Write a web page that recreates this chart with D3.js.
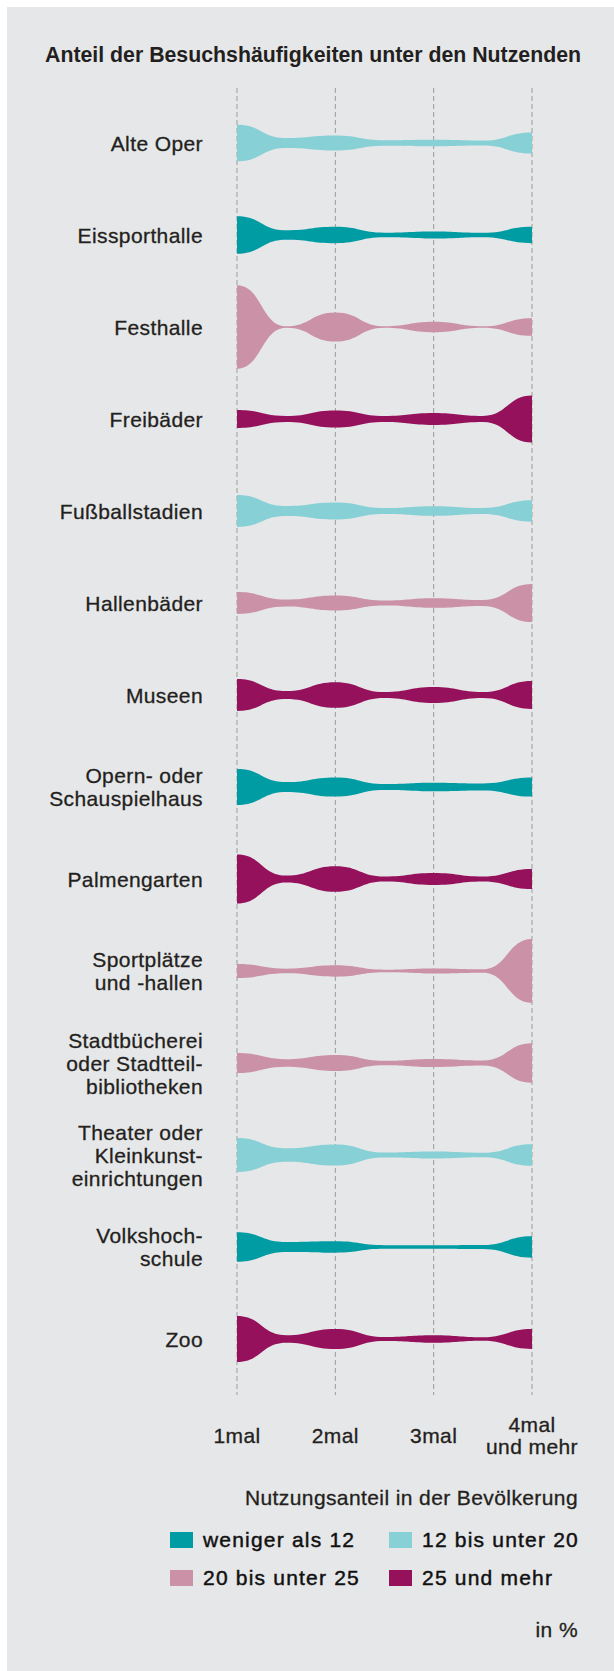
<!DOCTYPE html>
<html>
<head>
<meta charset="utf-8">
<script src="https://cdn.jsdelivr.net/npm/d3@7"></script>
<style>
body { margin: 0; background: #fff; }
svg { display: block; font-family: "Liberation Sans", Arial, sans-serif; }
</style>
</head>
<body>
<script>
// venues (label lines), usage class per venue
var venues = [
    ["Alte Oper"], ["Eissporthalle"], ["Festhalle"], ["Freibäder"], ["Fußballstadien"],
    ["Hallenbäder"], ["Museen"], ["Opern- oder", "Schauspielhaus"], ["Palmengarten"],
    ["Sportplätze", "und -hallen"], ["Stadtbücherei", "oder Stadtteil-", "bibliotheken"],
    ["Theater oder", "Kleinkunst-", "einrichtungen"], ["Volkshoch-", "schule"], ["Zoo"]
];
var usage = [1, 0, 2, 3, 1, 2, 3, 0, 3, 2, 2, 1, 0, 3];

// thickness at 1mal, 2mal, 3mal, 4mal+ (half width)
var atTicks = [
    [18.3, 7.5, 3.2, 10.5],
    [18.7, 8.2, 3.5, 8.2],
    [41.7, 14.5, 5.2, 8.8],
    [9, 8.5, 6, 23.5],
    [16, 8.5, 4.8, 10.7],
    [11, 7.5, 4.8, 19],
    [16, 12.8, 8, 13.9],
    [18, 9.6, 4.3, 9.6],
    [24.5, 12.8, 6, 10],
    [7, 5.7, 2.5, 32],
    [10, 8, 4, 19.7],
    [17, 10.5, 3.5, 10.7],
    [14.7, 5.7, 1.7, 10.7],
    [23, 10, 3.7, 10]
];
// thickness at the narrow points between the ticks
var waists = [
    [5, 2.7, 2.5],
    [4.7, 2.3, 2.2],
    [0.7, 0.7, 0.7],
    [3, 3, 3],
    [5, 3, 3],
    [3.5, 2.5, 3],
    [4, 3, 3],
    [5, 3, 3.5],
    [3.5, 2.5, 2.5],
    [2.3, 1.3, 1.7],
    [3.8, 2.2, 2.5],
    [6.7, 2.5, 2.3],
    [5, 1.8, 2],
    [3.8, 2, 1.7]
];

var frequency = [["1mal"], ["2mal"], ["3mal"], ["4mal", "und mehr"]];
var classes = ["weniger als 12", "12 bis unter 20", "20 bis unter 25", "25 und mehr"];
var colors = ["#009ca3", "#87d1d6", "#cb91a6", "#95115b"];

var W = 614, H = 1671;
var textColor = "#231f20";

var svg = d3.select("body").append("svg")
    .attr("width", W)
    .attr("height", H);

svg.append("rect")
    .attr("x", 7).attr("y", 7)
    .attr("width", W - 7).attr("height", H - 7)
    .attr("fill", "#e6e7e8");

svg.append("text")
    .attr("x", 45).attr("y", 62)
    .attr("font-size", 21.3)
    .attr("font-weight", "bold")
    .attr("fill", textColor)
    .text("Anteil der Besuchshäufigkeiten unter den Nutzenden");

var x = d3.scaleLinear().domain([1, 4]).range([237, 532]);
var y = d3.scalePoint().domain(d3.range(venues.length)).range([143, 1339]);
var w = d3.scaleLinear().domain([0, 50]).range([0, 50]);

// plain text with a hair of stroke, the original type is a bit heavier
function regular(sel, spacing){
    sel.attr("font-size", 21)
        .attr("letter-spacing", spacing)
        .attr("fill", textColor)
        .attr("stroke", textColor)
        .attr("stroke-width", 0.3);
}

// grid lines
svg.append("g").selectAll("line")
    .data([1, 2, 3, 4])
    .enter().append("line")
    .attr("x1", function(d){ return x(d); })
    .attr("x2", function(d){ return x(d); })
    .attr("y1", 88).attr("y2", 1395)
    .attr("stroke", "#9b9b9b")
    .attr("stroke-width", 1)
    .attr("stroke-dasharray", "5,3");

var rows = svg.append("g").selectAll("g")
    .data(venues)
    .enter().append("g");

// labels
rows.append("text")
    .attr("text-anchor", "end")
    .call(regular, 0.4)
    .each(function(d, i){
        var first = y(i) + 7.5 - (d.length - 1) * 23 / 2;
        d3.select(this).selectAll("tspan")
            .data(d)
            .enter().append("tspan")
            .attr("x", 203)
            .attr("y", function(t, j){ return first + j * 23; })
            .text(function(t){ return t; });
    });

// violin shapes
rows.append("path")
    .attr("fill", function(d, i){ return colors[usage[i]]; })
    .attr("d", function(d, i){
        var pts = [];
        for (var k = 0; k < 4; k++){
            pts.push([k + 1, atTicks[i][k]]);
            if (k < 3) pts.push([k + 1.5, waists[i][k]]);
        }
        var cy = y(i);
        return d3.area()
            .x(function(p){ return x(p[0]); })
            .y0(function(p){ return cy - w(p[1]); })
            .y1(function(p){ return cy + w(p[1]); })
            .curve(d3.curveBumpX)(pts);
    });

// axis labels
svg.append("g").selectAll("text")
    .data(frequency)
    .enter().append("text")
    .attr("text-anchor", "middle")
    .call(regular, 0.4)
    .each(function(d, i){
        var first = 1443 - (d.length - 1) * 11;
        d3.select(this).selectAll("tspan")
            .data(d)
            .enter().append("tspan")
            .attr("x", x(i + 1))
            .attr("y", function(t, j){ return first + j * 22; })
            .text(function(t){ return t; });
    });

// legend
svg.append("text")
    .attr("x", 578).attr("y", 1505)
    .attr("text-anchor", "end")
    .call(regular, 0.4)
    .text("Nutzungsanteil in der Bevölkerung");

var legend = svg.append("g").selectAll("g")
    .data(classes)
    .enter().append("g")
    .attr("transform", function(d, i){
        return "translate(" + (i % 2 ? 389 : 170) + "," + (1532 + Math.floor(i / 2) * 38) + ")";
    });

legend.append("rect")
    .attr("width", 23).attr("height", 16)
    .attr("fill", function(d, i){ return colors[i]; });

legend.append("text")
    .attr("x", 33).attr("y", 15)
    .call(regular, 1.2)
    .attr("fill", "#111")
    .attr("stroke", "#111")
    .attr("stroke-width", 0.45)
    .text(function(d){ return d; });

svg.append("text")
    .attr("x", 578).attr("y", 1637)
    .attr("text-anchor", "end")
    .call(regular, 0.4)
    .text("in %");
</script>
</body>
</html>
